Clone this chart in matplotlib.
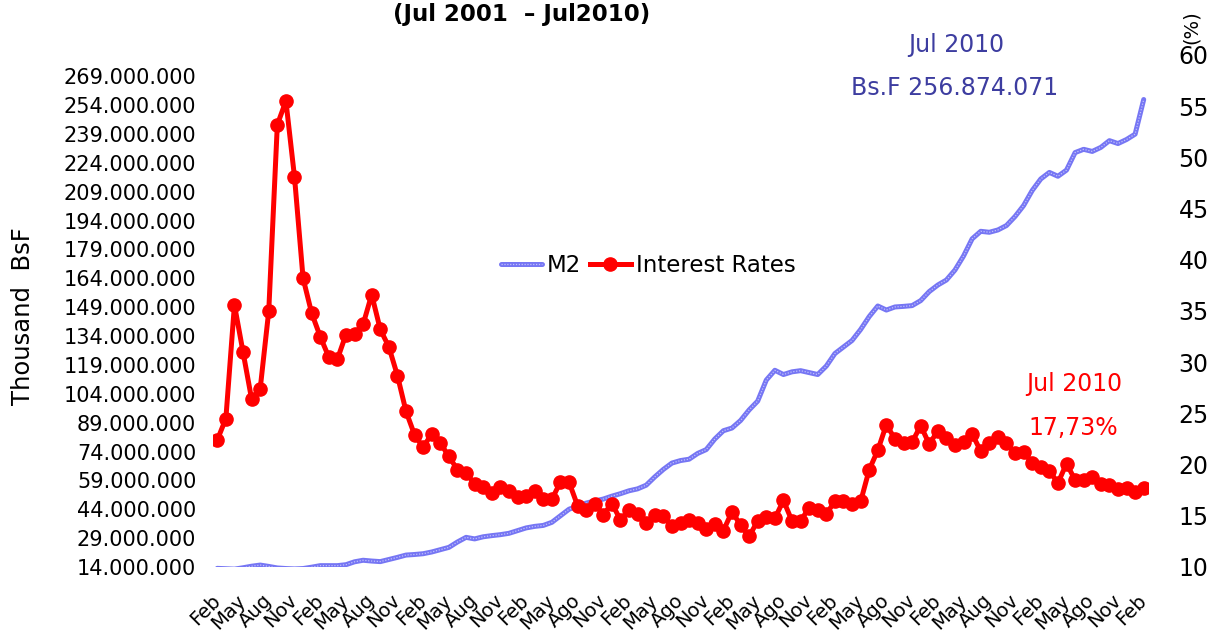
import matplotlib

matplotlib.use("Agg")
import matplotlib.pyplot as plt
import numpy as np
from matplotlib.legend_handler import HandlerTuple
from matplotlib.ticker import FuncFormatter

# quarterly category labels (as printed on the original chart)
tick_labels = [
    "Feb", "May", "Aug", "Nov",
    "Feb", "May", "Aug", "Nov",
    "Feb", "May", "Aug", "Nov",
    "Feb", "May", "Ago", "Nov",
    "Feb", "May", "Ago", "Nov",
    "Feb", "May", "Ago", "Nov",
    "Feb", "May", "Ago", "Nov",
    "Feb", "May", "Aug", "Nov",
    "Feb", "May", "Ago", "Nov",
    "Feb",
]

# M2, millions of thousand BsF, monthly Jul 2001 - Jul 2010
m2_millions = [
    13.3, 13.1, 12.9, 13.6, 14.4, 15.0, 14.3, 13.5, 13.2, 13.0,
    13.2, 13.9, 14.7, 14.7, 14.7, 15.2, 16.7, 17.5, 17.1, 16.8,
    17.9, 19.0, 20.2, 20.5, 20.9, 21.8, 23.0, 24.2, 27.0, 29.4,
    28.6, 29.7, 30.3, 30.8, 31.5, 32.9, 34.3, 35.1, 35.6, 37.2,
    40.6, 44.0, 45.7, 47.2, 48.3, 49.3, 50.8, 52.1, 53.6, 54.6,
    56.5, 60.8, 64.7, 68.0, 69.3, 70.0, 73.0, 75.0, 80.5, 84.8,
    86.2, 90.1, 95.6, 100.2, 111.1, 116.2, 114.0, 115.4, 116.0, 115.0,
    114.0, 118.4, 124.9, 128.3, 131.7, 137.4, 144.1, 149.6, 147.5, 149.1,
    149.4, 149.8, 152.4, 157.1, 160.5, 163.1, 168.3, 175.6, 184.5, 188.4,
    187.9, 189.1, 191.4, 196.1, 201.8, 209.6, 215.6, 219.0, 217.0, 220.2,
    229.3, 231.0, 229.9, 232.0, 235.5, 234.0, 236.1, 238.9, 256.874071,
]

# interest rates (%), same months
interest_rates = [
    22.4, 24.5, 35.6, 31.0, 26.4, 27.4, 35.0, 53.2, 55.5, 48.1,
    38.2, 34.8, 32.5, 30.5, 30.3, 32.7, 32.8, 33.7, 36.6, 33.2,
    31.5, 28.7, 25.2, 22.9, 21.7, 23.0, 22.1, 20.8, 19.5, 19.2,
    18.1, 17.8, 17.2, 17.8, 17.4, 16.8, 16.9, 17.45, 16.6, 16.6,
    18.3, 18.3, 16.0, 15.6, 16.2, 15.1, 16.2, 14.6, 15.6, 15.2,
    14.3, 15.1, 15.0, 14.0, 14.3, 14.6, 14.3, 13.7, 14.2, 13.55,
    15.4, 14.1, 13.0, 14.5, 14.85, 14.75, 16.5, 14.5, 14.5, 15.8,
    15.6, 15.2, 16.4, 16.4, 16.2, 16.4, 19.5, 21.4, 23.9, 22.5,
    22.1, 22.2, 23.8, 22.0, 23.3, 22.6, 21.9, 22.2, 23.0, 21.3,
    22.1, 22.7, 22.1, 21.1, 21.2, 20.2, 19.8, 19.4, 18.2, 20.1,
    18.5, 18.5, 18.8, 18.1, 18.0, 17.6, 17.7, 17.3, 17.73,
]

x = np.arange(len(interest_rates))
m2 = np.array(m2_millions) * 1e6

W, H = 1223, 639
fig = plt.figure(figsize=(W / 100, H / 100), dpi=100)
ax = fig.add_axes([213 / W, 72 / H, (1148 - 213) / W, 512 / H])
ax2 = ax.twinx()

# M2: light blue line with a checkered texture (white dots on top)
blue = "#7676f4"
l1, = ax.plot(x, m2, color=blue, lw=3.6, solid_capstyle="round")
l1b, = ax.plot(x, m2, color="white", lw=0.9, alpha=0.55,
               linestyle=(0, (1, 1.3)))
l2, = ax2.plot(x, interest_rates, color="#ff0000", lw=3.6, marker="o",
               markersize=9.5)

ax.set_xlim(-0.5, len(x) - 0.5)
ax.set_ylim(14e6, 280e6)
ax2.set_ylim(10, 60)

ax.set_yticks(np.arange(14e6, 270e6, 15e6))
ax.yaxis.set_major_formatter(FuncFormatter(lambda v, p: f"{v:,.0f}".replace(",", ".")))
ax2.set_yticks(np.arange(10, 61, 5))

ax.set_xticks(x[::3])
ax.set_xticklabels(tick_labels, rotation=45, ha="right", va="center",
                   rotation_mode="anchor", fontsize=14)

ax.tick_params(axis="y", length=0, pad=12, labelsize=15)
ax.tick_params(axis="x", length=0, pad=22)
ax2.tick_params(axis="y", length=0, pad=22, labelsize=17)
for a in (ax, ax2):
    for s in a.spines.values():
        s.set_visible(False)

ax.set_ylabel("Thousand  BsF", fontsize=17.5)
ax.yaxis.set_label_coords((35 - 213) / (1148 - 213), 0.49)
fig.text(1191 / W, 1 - 27 / H, "(%)", rotation=90, fontsize=14,
         ha="center", va="center")

fig.text(522 / W, 1 - 15 / H, "(Jul 2001  \u2013 Jul2010)", fontsize=16.5,
         fontweight="bold", ha="center", va="center")

navy = "#3d3da0"
fig.text(956 / W, 1 - 45 / H, "Jul 2010", color=navy, fontsize=17,
         ha="center", va="center")
fig.text(955 / W, 1 - 88 / H, "Bs.F 256.874.071", color=navy, fontsize=17,
         ha="center", va="center")
fig.text(1074 / W, 1 - 384 / H, "Jul 2010", color="#ff0000", fontsize=17,
         ha="center", va="center")
fig.text(1073 / W, 1 - 428 / H, "17,73%", color="#ff0000", fontsize=17,
         ha="center", va="center")

fig.legend([(l1, l1b), l2], ["M2", "Interest Rates"], loc="center",
           bbox_to_anchor=(648 / W, 1 - 266 / H), ncol=2, frameon=False,
           fontsize=16.5, handlelength=1.8, handletextpad=0.2,
           columnspacing=0.4, handler_map={tuple: HandlerTuple(ndivide=1)})

fig.savefig("out.png", dpi=100)
